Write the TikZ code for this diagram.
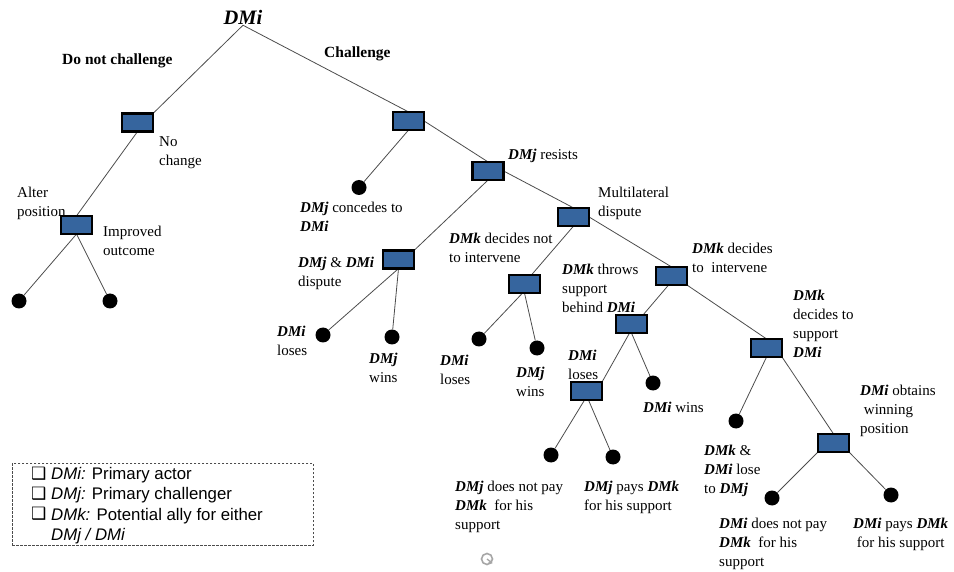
\documentclass[tikz,border=0pt]{standalone}
\usepackage{fontspec}
\setmainfont{Liberation Serif}
\setsansfont{Liberation Sans}
\newfontfamily\symfont{DejaVu Sans}
\usetikzlibrary{arrows.meta}
\definecolor{boxblue}{RGB}{54,101,158}
\newcommand{\DM}[1]{\textbf{\textit{#1}}}
\newcommand{\legbox}{\makebox[20pt][l]{\raisebox{0.5pt}{\symfont\fontsize{17}{17}\selectfont ❑}}}
\tikzset{
  decbox/.style={draw=black, line width=2.7pt, fill=boxblue, minimum width=28.5pt, minimum height=15.5pt, inner sep=0pt},
  leaf/.style={circle, fill=black, minimum size=15pt, inner sep=0pt},
  edge/.style={draw=black!70, line width=0.8pt},
  lbl/.style={anchor=north west, inner sep=0pt, align=left, font=\fontsize{15}{19}\selectfont},
  hdr/.style={lbl, font=\fontsize{15.5}{19}\selectfont\bfseries},
  legtxt/.style={anchor=north west, inner sep=0pt, align=left, font=\sffamily\fontsize{16.8}{20.3}\selectfont}
}
\begin{document}
\begin{tikzpicture}[x=1pt,y=-1pt]
\useasboundingbox (0,0) rectangle (954,572);
% root
\node[anchor=base, inner sep=0pt, font=\fontsize{20.5}{24}\selectfont] (root) at (243,25) {\DM{DMi}};
% decision boxes
\node[decbox] (A)  at (137.5,122.5) {};
\node[decbox] (B)  at (408.5,121) {};
\node[decbox] (A2) at (76.5,225) {};
\node[decbox] (C)  at (488,171) {};
\node[decbox] (D)  at (398.5,259.5) {};
\node[decbox] (E)  at (573.5,217) {};
\node[decbox] (F)  at (524.5,284) {};
\node[decbox] (G)  at (671.5,276) {};
\node[decbox] (H)  at (631.5,324) {};
\node[decbox] (I)  at (766.5,348) {};
\node[decbox] (J)  at (586.5,391) {};
\node[decbox] (K)  at (833.5,443) {};
% leaves
\node[leaf] (L1)  at (19,301) {};
\node[leaf] (L2)  at (110,301) {};
\node[leaf] (Lc)  at (359,187.5) {};
\node[leaf] (L3)  at (323,335) {};
\node[leaf] (L4)  at (392,337) {};
\node[leaf] (L5)  at (479,339) {};
\node[leaf] (L6)  at (537,348) {};
\node[leaf] (Lw)  at (653,383) {};
\node[leaf] (L7)  at (736,421) {};
\node[leaf] (L8)  at (551,455) {};
\node[leaf] (L9)  at (613,457) {};
\node[leaf] (L10) at (772,498) {};
\node[leaf] (L11) at (891,495) {};
% connectors
\path[edge] (root.south) -- (A.north east);
\path[edge] (root.south) -- (B.north);
\path[edge] (A.south) -- (A2.north);
\path[edge] (A2.south) -- (L1);
\path[edge] (A2.south) -- (L2);
\path[edge] (B.south) -- (Lc);
\path[edge] (B.east) -- (C.north);
\path[edge] (C.south) -- (D.north east);
\path[edge] (C.east) -- (E.north);
\path[edge] (D.south) -- (L3);
\path[edge] (D.south) -- (L4);
\path[edge] (E.south) -- ([xshift=7pt]F.north);
\path[edge] (E.east) -- (G.north);
\path[edge] ([xshift=-2pt]F.south) -- (L5);
\path[edge] (F.south) -- (L6);
\path[edge] ([xshift=-3pt]G.south) -- ([xshift=-4pt]H.north east);
\path[edge] (G.south east) -- (I.north);
\path[edge] ([xshift=-2pt]H.south) -- (J.north east);
\path[edge] (H.south) -- (Lw);
\path[edge] (I.south) -- (L7);
\path[edge] (I.south east) -- (K.north);
\path[edge] ([xshift=-2pt]J.south) -- (L8);
\path[edge] ([xshift=2pt]J.south) -- (L9);
\path[edge] (K.south west) -- (L10);
\path[edge] (K.south east) -- (L11);
% redraw boxes on top of connectors
\foreach \n in {A,B,A2,C,D,E,F,G,H,I,J,K}{
  \path[draw=black, line width=2.7pt, fill=boxblue] (\n.south west) rectangle (\n.north east);
}
% labels
\node[hdr] (t1) at (62,54) {Do not challenge};
\node[hdr] (t2) at (324,47) {Challenge};
\node[lbl] (t3) at (159,136) {No\\change};
\node[lbl] (t4) at (17,187) {Alter\\position};
\node[lbl] (t5) at (103,226) {Improved\\outcome};
\node[lbl] (t6) at (300,202) {\DM{DMj} concedes to\\\DM{DMi}};
\node[lbl] (t7) at (298,257) {\DM{DMj} \& \DM{DMi}\\dispute};
\node[lbl] (t8) at (508,149) {\DM{DMj} resists};
\node[lbl] (t9) at (598,187) {Multilateral\\dispute};
\node[lbl] (t10) at (449,233) {\DM{DMk} decides not\\to intervene};
\node[lbl] (t11) at (692,243) {\DM{DMk} decides\\to\ \ intervene};
\node[lbl] (t12) at (562,264) {\DM{DMk} throws\\support\\behind \DM{DMi}};
\node[lbl] (t13) at (793,290) {\DM{DMk}\\decides to\\support\\\DM{DMi}};
\node[lbl] (t14) at (277,326) {\DM{DMi}\\loses};
\node[lbl] (t15) at (369,353) {\DM{DMj}\\wins};
\node[lbl] (t16) at (440,355) {\DM{DMi}\\loses};
\node[lbl] (t17) at (516,367) {\DM{DMj}\\wins};
\node[lbl] (t18) at (568,350) {\DM{DMi}\\loses};
\node[lbl] (t19) at (643,402) {\DM{DMi} wins};
\node[lbl] (t20) at (860,385) {\DM{DMi} obtains\\\ winning\\position};
\node[lbl] (t21) at (704,445) {\DM{DMk} \&\\\DM{DMi} lose\\to \DM{DMj}};
\node[lbl] (t22) at (455,481) {\DM{DMj} does not pay\\\DM{DMk}\ \ for his\\support};
\node[lbl] (t23) at (584,481) {\DM{DMj} pays \DM{DMk}\\for his support};
\node[lbl] (t24) at (719,518) {\DM{DMi} does not pay\\\DM{DMk}\ \ for his\\support};
\node[lbl] (t25) at (853,518) {\DM{DMi} pays \DM{DMk}\\\ for his support};
% legend
\node[draw=black!70, line width=0.8pt, dash pattern=on 2.5pt off 1.5pt, minimum width=301pt, minimum height=82pt, anchor=north west, inner sep=0pt] (legend) at (12,463) {};
\node[legtxt] (legt) at (31,466.5) {%
\legbox\textit{DMi:} Primary actor\\
\legbox\textit{DMj:} Primary challenger\\
\legbox\textit{DMk:} Potential ally for either\\
\hspace*{20pt}\textit{DMj / DMi}};
% small icon
\draw[black!35, line width=1.6pt] (487,559) circle[radius=5.5pt];
\draw[black!35, line width=1.3pt, -{Stealth[length=4pt,width=5pt]}] (487,559) -- (492.5,563.5);
\end{tikzpicture}
\end{document}
